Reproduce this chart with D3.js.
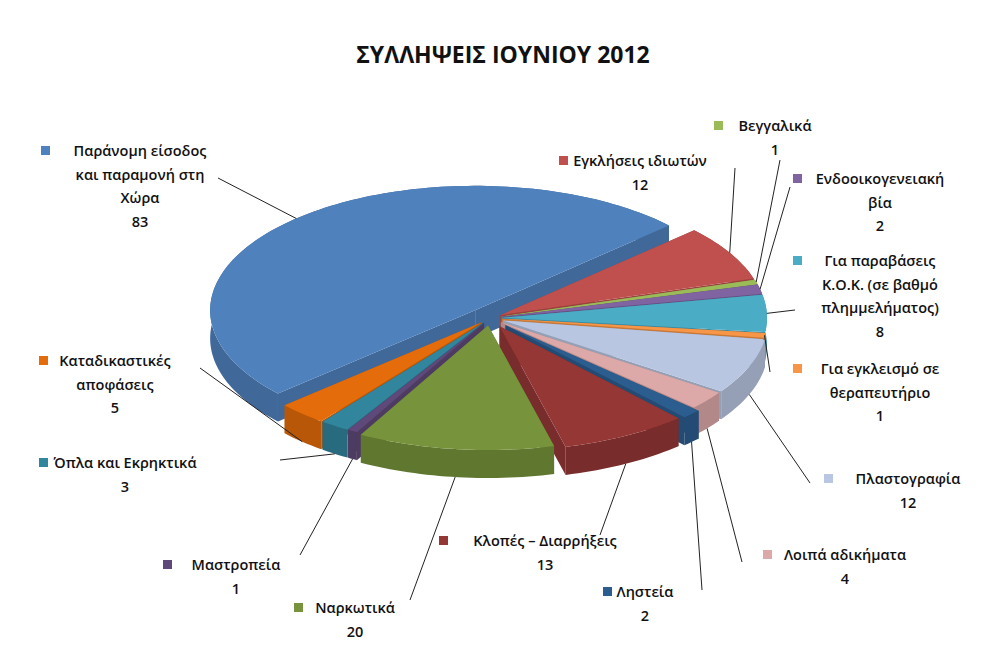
<!DOCTYPE html>
<html><head><meta charset="utf-8">
<script src="https://cdn.jsdelivr.net/npm/d3@7"></script>
<style>body{margin:0;background:#fff}text{font-family:"Open Sans","Noto Sans",sans-serif;fill:#111}</style>
</head><body>
<svg id="c" width="1006" height="661"></svg>
<script>
const categories = ["Εγκλήσεις ιδιωτών","Βεγγαλικά","Ενδοοικογενειακή βία","Για παραβάσεις Κ.Ο.Κ. (σε βαθμό πλημμελήματος)","Για εγκλεισμό σε θεραπευτήριο","Πλαστογραφία","Λοιπά αδικήματα","Ληστεία","Κλοπές – Διαρρήξεις","Ναρκωτικά","Μαστροπεία","Όπλα και Εκρηκτικά","Καταδικαστικές αποφάσεις","Παράνομη είσοδος και παραμονή στη Χώρα"];
const values = [12,1,2,8,1,12,4,2,13,20,1,3,5,83];
const colors = ["#C0504D","#9BBB59","#8064A2","#4BACC6","#F79646","#B9C6E2","#DCA9A8","#2C5D8F","#953735","#77933C","#5F497A","#31859C","#E46C0A","#4F81BD"];
const labelLines = [["Εγκλήσεις ιδιωτών","12"],["Βεγγαλικά","1"],["Ενδοοικογενειακή","βία","2"],["Για παραβάσεις","Κ.Ο.Κ. (σε βαθμό","πλημμελήματος)","8"],["Για εγκλεισμό σε","θεραπευτήριο","1"],["Πλαστογραφία","12"],["Λοιπά αδικήματα","4"],["Ληστεία","2"],["Κλοπές – Διαρρήξεις","13"],["Ναρκωτικά","20"],["Μαστροπεία","1"],["Όπλα και Εκρηκτικά","3"],["Καταδικαστικές","αποφάσεις","5"],["Παράνομη είσοδος","και παραμονή στη","Χώρα","83"]];
const labelLayout = [
 {x:640,y:166,sx:563,lx:735,ly:168},{x:775,y:131,sx:718,lx:780,ly:160},{x:880,y:184,sx:797,lx:790,ly:187},
 {x:880,y:266,sx:797,lx:795,ly:310},{x:880,y:374,sx:797,lx:770,ly:372},{x:908,y:484,sx:828,lx:810,ly:483},
 {x:845,y:560,sx:767,lx:742,ly:562},{x:645,y:597,sx:607,lx:702,ly:590},{x:545,y:546,sx:443,lx:600,ly:535},
 {x:355,y:613,sx:298,lx:410,ly:600},{x:236,y:570,sx:167,lx:300,ly:555},{x:125,y:468,sx:43,lx:280,ly:460},
 {x:115,y:366,sx:43,lx:200,ly:368},{x:140,y:156,sx:45,lx:218,ly:178}];
const explode = [12,12,12,12,12,14,14,22,20,16,12,12,12,22];

const svg = d3.select("#c");
svg.append("text").attr("x",503).attr("y",63).attr("text-anchor","middle")
  .style("font-size","23px").style("font-weight","bold").text("ΣΥΛΛΗΨΕΙΣ ΙΟΥΝΙΟΥ  2012");

const cx=490, cy=318, R=265, tilt=0.47, depth=28;
const start = 47*Math.PI/180;
const pie = d3.pie().sort(null).startAngle(start).endAngle(start+2*Math.PI).value(d=>d);
const arcs = pie(values).map((a,i)=>{
  const m=(a.startAngle+a.endAngle)/2;
  return {...a,i,m,ox:explode[i]*Math.sin(m),oy:-explode[i]*Math.cos(m)*tilt};
});
const P=(a,r,d,z)=>[cx+d.ox+r*Math.sin(a), cy+d.oy-r*Math.cos(a)*tilt+z];
const line=d3.line();
const dark=c=>d3.color(c).darker(0.6).toString();
const order=arcs.slice().sort((a,b)=>(-Math.cos(a.m))-(-Math.cos(b.m)));
const g=svg.append("g");
order.forEach(d=>{
  const n=Math.max(4,Math.ceil((d.endAngle-d.startAngle)*40));
  const angs=d3.range(n+1).map(k=>d.startAngle+(d.endAngle-d.startAngle)*k/n);
  const c=colors[d.i], sd=dark(c);
  [d.startAngle,d.endAngle].forEach(a=>{
    g.append("path").attr("d",line([P(a,0,d,0),P(a,R,d,0),P(a,R,d,depth),P(a,0,d,depth)])+"Z").attr("fill",sd);
  });
  const top=angs.map(a=>P(a,R,d,0)), bot=angs.map(a=>P(a,R,d,depth)).reverse();
  g.append("path").attr("d",line(top.concat(bot))+"Z").attr("fill",sd);
  g.append("path").attr("d",line([P(0,0,d,0)].concat(top))+"Z").attr("fill",c);
});
arcs.forEach(d=>{
  const L=labelLayout[d.i];
  const front=-Math.cos(d.m)>0.3;
  const e=P(d.m,R*1.0,d,front?depth:0);
  svg.append("line").attr("x1",L.lx).attr("y1",L.ly).attr("x2",e[0]).attr("y2",e[1]).attr("stroke","#222").attr("stroke-width",1);
  svg.append("rect").attr("x",L.sx-4).attr("y",L.y-10).attr("width",9).attr("height",9).attr("fill",colors[d.i]);
  labelLines[d.i].forEach((t,k)=>{
    svg.append("text").attr("x",L.x).attr("y",L.y+k*23.5).attr("text-anchor","middle")
      .style("font-size","14.5px").style("font-weight","600").text(t);
  });
});
</script></body></html>
